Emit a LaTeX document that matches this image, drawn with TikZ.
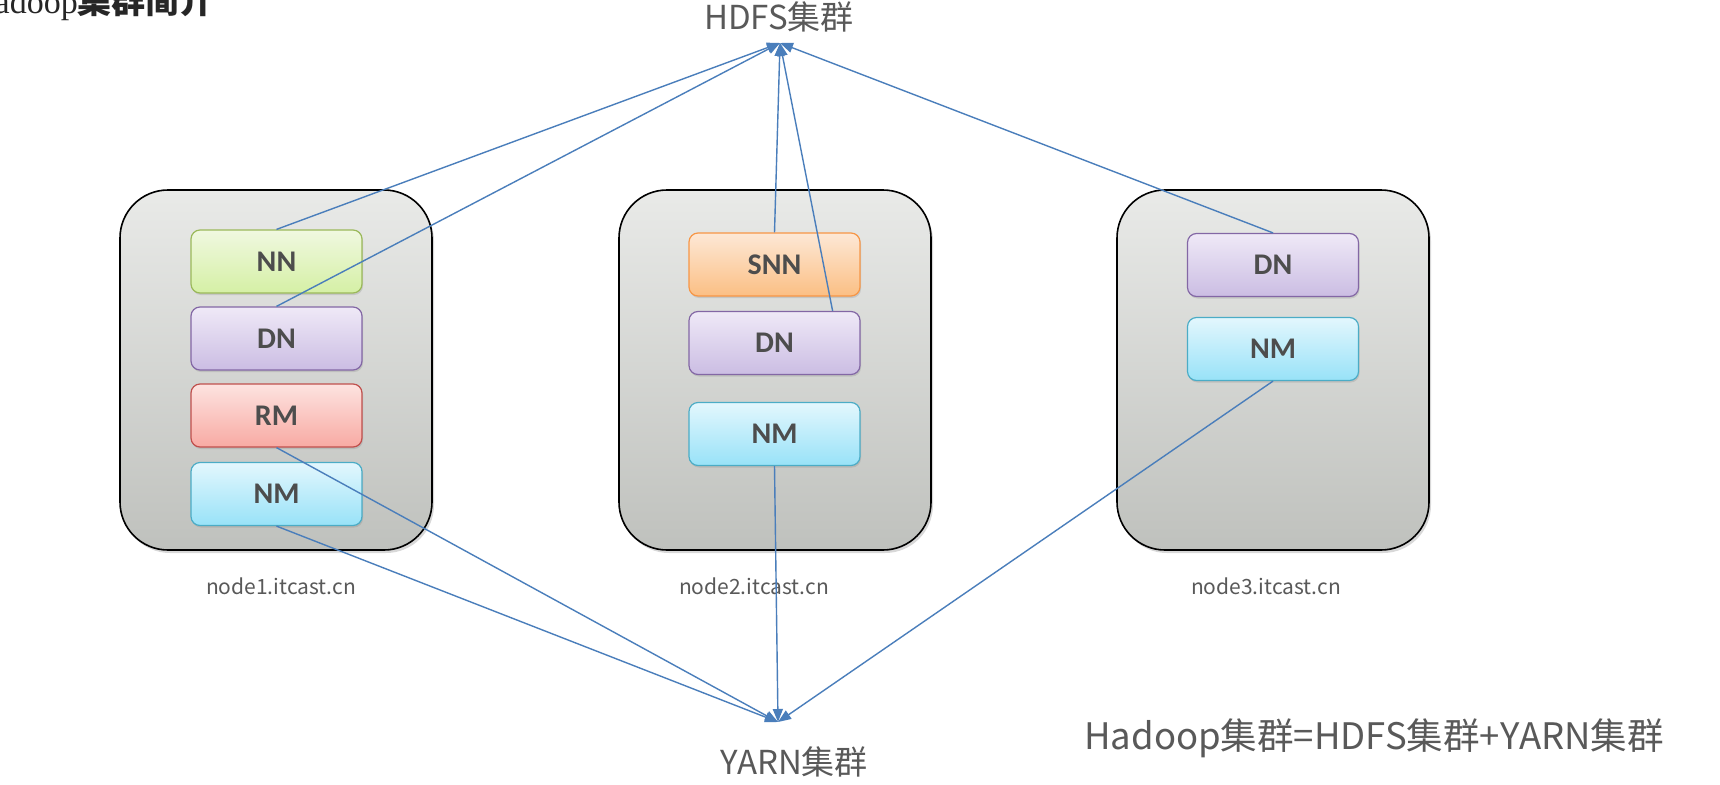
\documentclass[tikz,border=0pt]{standalone}
\usepackage{fontspec}
\newfontfamily\cjk{Noto Sans CJK SC}
\newfontfamily\boxfont{Carlito}
\newfontfamily\titlefont{Liberation Serif}
\usepackage{tikz}
\usetikzlibrary{arrows.meta, shadows}

\definecolor{linkblue}{RGB}{74,126,187}
\definecolor{txtgray}{RGB}{89,89,89}
\definecolor{roletext}{RGB}{77,77,77}
\definecolor{hosttop}{RGB}{233,234,232}
\definecolor{hostbot}{RGB}{191,193,189}
\definecolor{nntop}{RGB}{240,248,224}
\definecolor{nnbot}{RGB}{213,240,165}
\definecolor{nnline}{RGB}{155,185,90}
\definecolor{dntop}{RGB}{239,233,247}
\definecolor{dnbot}{RGB}{203,189,227}
\definecolor{dnline}{RGB}{131,103,165}
\definecolor{rmtop}{RGB}{253,227,224}
\definecolor{rmbot}{RGB}{248,170,163}
\definecolor{rmline}{RGB}{192,80,77}
\definecolor{nmtop}{RGB}{227,247,253}
\definecolor{nmbot}{RGB}{152,226,248}
\definecolor{nmline}{RGB}{75,172,198}
\definecolor{snntop}{RGB}{253,232,214}
\definecolor{snnbot}{RGB}{251,191,132}
\definecolor{snnline}{RGB}{247,150,70}

\tikzset{
  host/.style={draw=black, line width=1.6pt, rounded corners=48pt,
    minimum width=312pt, minimum height=360pt,
    top color=hosttop, bottom color=hostbot,
    drop shadow={opacity=0.3, shadow xshift=2pt, shadow yshift=-3pt}},
  role/.style={line width=1.2pt, rounded corners=9pt,
    minimum width=171pt, minimum height=63pt, text=roletext,
    font=\boxfont\bfseries\fontsize{30}{30}\selectfont,
    drop shadow={opacity=0.25, shadow xshift=1pt, shadow yshift=-2pt}},
  nnrole/.style={role, draw=nnline, top color=nntop, bottom color=nnbot},
  dnrole/.style={role, draw=dnline, top color=dntop, bottom color=dnbot},
  rmrole/.style={role, draw=rmline, top color=rmtop, bottom color=rmbot},
  nmrole/.style={role, draw=nmline, top color=nmtop, bottom color=nmbot},
  snnrole/.style={role, draw=snnline, top color=snntop, bottom color=snnbot},
  hostname/.style={text=txtgray, font=\cjk\fontsize{21}{21}\selectfont},
  cluster/.style={text=txtgray, font=\cjk\fontsize{33}{33}\selectfont},
  link/.style={-{Triangle[length=13pt,width=10pt]}, draw=linkblue, line width=1.4pt},
}

\begin{document}
\begin{tikzpicture}[x=1pt, y=-1pt]
    \fill[white] (0,0) rectangle (1720,784);
    \useasboundingbox (0,0) rectangle (1720,784);

    % title, cut at the page edge
    \node[anchor=base east, inner sep=0pt, text=black!85] (title) at (214,14)
        {{\titlefont\fontsize{34}{34}\selectfont Hadoop}{\cjk\bfseries\fontsize{34}{34}\selectfont 集群简介}};

    % the three machines
    \node[host] (host1) at (276,370) {};
    \node[host] (host2) at (775,370) {};
    \node[host] (host3) at (1273,370) {};
    \node[hostname] (name1) at (281,586) {node1.itcast.cn};
    \node[hostname] (name2) at (754,586) {node2.itcast.cn};
    \node[hostname] (name3) at (1266,586) {node3.itcast.cn};

    % roles
    \node[nnrole] (nn1) at (276.5,261.5) {NN};
    \node[dnrole] (dn1) at (276.5,338.5) {DN};
    \node[rmrole] (rm1) at (276.5,415.5) {RM};
    \node[nmrole] (nm1) at (276.5,494) {NM};
    \node[snnrole] (snn2) at (774.5,264.5) {SNN};
    \node[dnrole] (dn2) at (774.5,343) {DN};
    \node[nmrole] (nm2) at (774.5,434) {NM};
    \node[dnrole] (dn3) at (1273,265) {DN};
    \node[nmrole] (nm3) at (1273,349) {NM};

    % clusters
    \node[cluster] (hdfs) at (779,17) {HDFS集群};
    \node[cluster] (yarn) at (794,762) {YARN集群};
    \node[cluster, font=\cjk\fontsize{36.5}{36.5}\selectfont] (sum) at (1374,738) {Hadoop集群=HDFS集群+YARN集群};
    \coordinate (hdfsin) at (780,43);
    \coordinate (yarnin) at (778,722);

    \draw[link] (nn1.north) -- (hdfsin);
    \draw[link] (dn1.north) -- (hdfsin);
    \draw[link] (snn2.north) -- (hdfsin);
    \draw[link] ([xshift=-28pt]dn2.north east) -- (hdfsin);
    \draw[link] (dn3.north) -- (hdfsin);
    \draw[link] (rm1.south) -- (yarnin);
    \draw[link] (nm1.south) -- (yarnin);
    \draw[link] (nm2.south) -- (yarnin);
    \draw[link] (nm3.south) -- (yarnin);
\end{tikzpicture}
\end{document}
